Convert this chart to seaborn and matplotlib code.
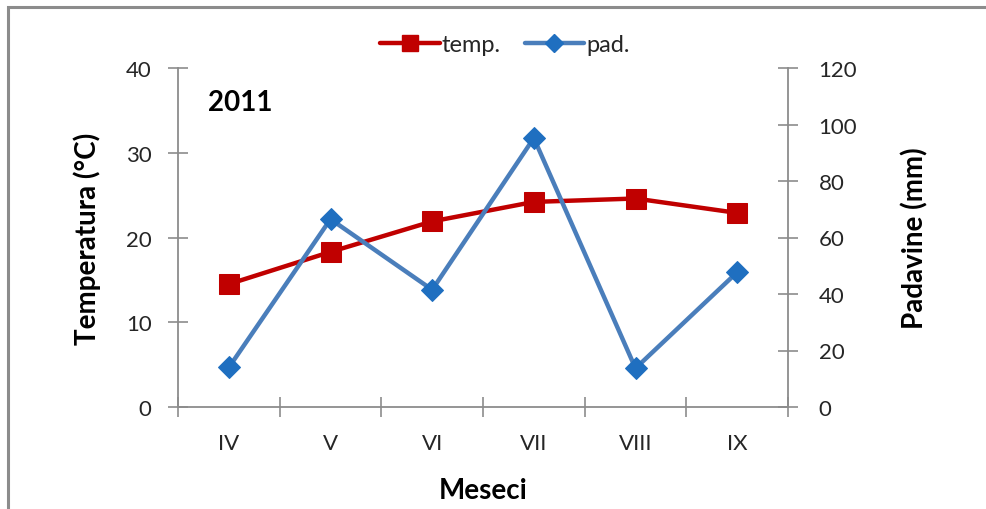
import matplotlib
matplotlib.use("Agg")
import matplotlib.pyplot as plt
import seaborn as sns
import pandas as pd
from matplotlib.lines import Line2D
from matplotlib.patches import Rectangle

months = ["IV", "V", "VI", "VII", "VIII", "IX"]
temp = [14.5, 18.3, 21.9, 24.2, 24.6, 22.9]
pad = [14.0, 66.5, 41.5, 95.2, 13.7, 47.7]
temp_ticks = [0, 10, 20, 30, 40]
pad_ticks = [0, 20, 40, 60, 80, 100, 120]

sns.set_style("white")
plt.rcParams['font.family'] = ['Lato', 'DejaVu Sans']

df = pd.DataFrame({"mesec": months, "x": range(len(months)), "temp": temp, "pad": pad})

RED = "#C00000"
BLUE_LINE = "#4A7EBB"
BLUE_MK = "#1F6FC0"
AXC = "#8C8C8C"

fig = plt.figure(figsize=(9.86, 5.10), dpi=100)
ax = fig.add_axes([178/986, 1-408/510, (788-178)/986, (408-69)/510])
ax2 = ax.twinx()

sns.lineplot(data=df, x="x", y="temp", ax=ax, color=RED, linewidth=3.2,
             marker="s", markersize=15, markeredgecolor=RED, markerfacecolor=RED, zorder=3)
sns.lineplot(data=df, x="x", y="pad", ax=ax2, color=BLUE_LINE, linewidth=3.2,
             marker="D", markersize=11, markeredgecolor=BLUE_MK, markerfacecolor=BLUE_MK, zorder=4)

ax.set_xlim(-0.5, len(months) - 0.5)
ax.set_ylim(0, 40)
ax2.set_ylim(0, 120)
ax.set_yticks(temp_ticks)
ax2.set_yticks(pad_ticks)
ax.set_xticks(range(len(months)))
ax.set_xticklabels(months)
ax.set_xticks([i + 0.5 for i in range(-1, len(months))], minor=True)

for a in (ax, ax2):
    for s in a.spines.values():
        s.set_visible(False)
    a.tick_params(labelsize=16, colors="#404040", labelcolor="#262626")

ax.spines["left"].set_visible(True)
ax.spines["bottom"].set_visible(True)
ax2.spines["right"].set_visible(True)
for s in (ax.spines["left"], ax.spines["bottom"], ax2.spines["right"]):
    s.set_color(AXC)
    s.set_linewidth(1.3)

ax.tick_params(axis="y", which="major", direction="inout", length=14, width=1.2, color=AXC, pad=12, left=True)
ax2.tick_params(axis="y", which="major", direction="inout", length=14, width=1.2, color=AXC, pad=15, right=True)
ax.tick_params(axis="x", which="major", length=0, pad=19)
ax.tick_params(axis="x", which="minor", direction="inout", length=14, width=1.2, color=AXC, bottom=True)

ax.set_xlabel("Meseci", fontsize=20, fontweight="bold", labelpad=17, color="black")
ax.set_ylabel("Temperatura (°C)", fontsize=20, fontweight="bold", labelpad=18, color="black")
ax2.set_ylabel("Padavine (mm)", fontsize=20, fontweight="bold", labelpad=32, color="black")

ax.text(0.049, 0.901, "2011", transform=ax.transAxes, fontsize=20, fontweight="bold",
        color="black", va="center", ha="left")

handles = [
    Line2D([], [], color=RED, linewidth=3.2, marker="s", markersize=12, markerfacecolor=RED, markeredgecolor=RED),
    Line2D([], [], color=BLUE_LINE, linewidth=3.2, marker="D", markersize=9, markerfacecolor=BLUE_MK, markeredgecolor=BLUE_MK),
]
fig.legend(handles, ["temp.", "pad."], loc="center", bbox_to_anchor=(505/986, 1-46/510), ncol=2,
           frameon=False, fontsize=17, handlelength=2.5, handletextpad=0.1, columnspacing=1.0)

fig.patches.append(Rectangle((8/986, -0.05), 1.1, 1-8/510+0.05, transform=fig.transFigure,
                             fill=False, edgecolor="#8C8C8C", linewidth=2.2))

fig.savefig("out.png", dpi=100)
